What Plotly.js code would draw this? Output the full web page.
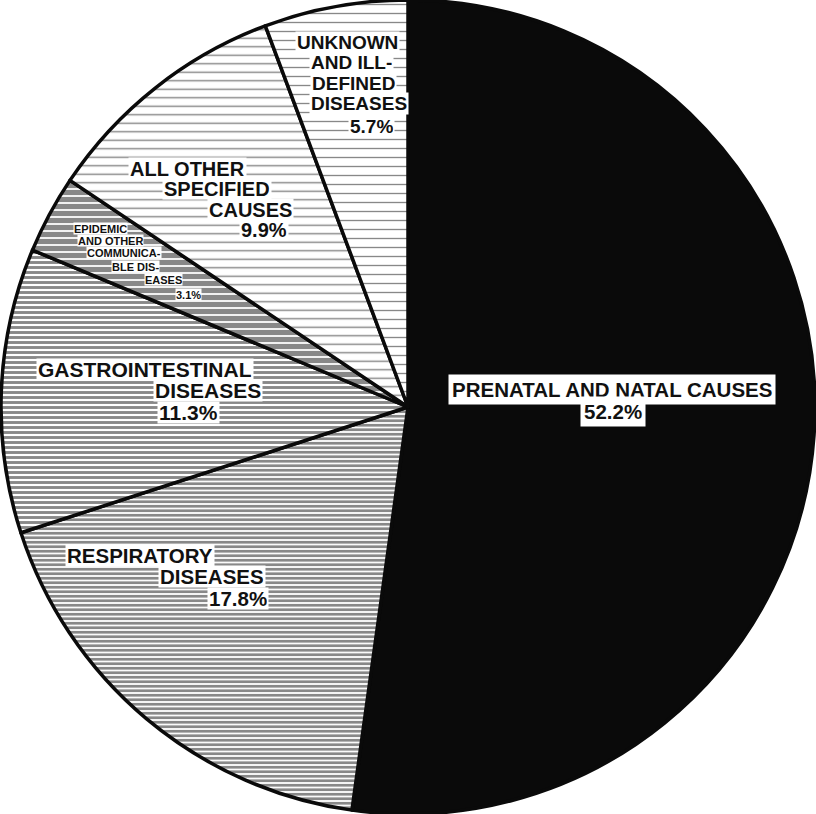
<!DOCTYPE html>
<html>
<head>
<meta charset="utf-8">
<script src="https://cdn.plot.ly/plotly-3.0.1.min.js"></script>
<style>html,body{margin:0;padding:0;background:#fff;}#chart{width:816px;height:814px;}</style>
</head>
<body>
<div id="chart"></div>
<script>
// ---- data ----
var categories = ["Prenatal and natal causes", "Respiratory diseases", "Gastrointestinal diseases",
  "Epidemic and other communicable diseases", "All other specified causes", "Unknown and ill-defined diseases"];
var values = [52.2, 17.8, 11.3, 3.1, 9.9, 5.7];
var labelLines = [
  ["PRENATAL AND NATAL CAUSES"],
  ["RESPIRATORY", "DISEASES"],
  ["GASTROINTESTINAL", "DISEASES"],
  ["EPIDEMIC", "AND OTHER", "COMMUNICA-", "BLE DIS-", "EASES"],
  ["ALL OTHER", "SPECIFIED", "CAUSES"],
  ["UNKNOWN", "AND ILL-", "DEFINED", "DISEASES"]
];

// ---- layout constants (pixel centres of each text line, font size) ----
var W = 816, H = 814;
var linePos = [
  [[612, 389], [613, 411]],
  [[140, 555], [212, 576], [238, 598]],
  [[145, 369], [208, 390], [188, 412]],
  [[100, 228], [110, 240.5], [124, 253], [135, 266.5], [163, 280], [188, 294]],
  [[187, 169], [217, 189], [250, 209], [264, 229]],
  [[347, 42], [351, 62], [353, 84], [359, 104], [371, 126]]
];
var fontSizes = [20.5, 20.5, 21, 11, 20, 19];
var pads = [3, 1, 1, 0, 1, 1];
var boxH = [null, 19, 19, 11, 19, 19];

var annotations = [];
for (var i = 0; i < categories.length; i++) {
  var lines = labelLines[i].concat([values[i].toFixed(1) + "%"]);
  for (var j = 0; j < lines.length; j++) {
    var p = linePos[i][j];
    var a = {
      text: "<b>" + lines[j] + "</b>", xref: "paper", yref: "paper",
      x: p[0] / W, y: 1 - p[1] / H, xanchor: "center", yanchor: "middle",
      showarrow: false, bgcolor: "#ffffff", borderpad: pads[i],
      font: {family: "Liberation Sans, Arial, sans-serif", size: fontSizes[i], color: "#111"}
    };
    if (boxH[i]) a.height = boxH[i];
    annotations.push(a);
  }
}

var trace = {
  type: "pie",
  labels: categories,
  values: values,
  sort: false,
  direction: "clockwise",
  rotation: 0,
  textinfo: "none",
  hoverinfo: "label+percent",
  marker: {
    colors: ["#0a0a0a", "#ffffff", "#ffffff", "#ffffff", "#ffffff", "#ffffff"],
    line: {color: "#0a0a0a", width: 3.5},
    pattern: {
      shape: ["", "-", "-", "-", "-", "-"],
      fgcolor: "#111111",
      bgcolor: ["#0a0a0a", "#ffffff", "#ffffff", "#ffffff", "#ffffff", "#ffffff"],
      size: [8, 4.5, 5, 7, 8.5, 9],
      solidity: [0.3, 0.62, 0.58, 0.75, 0.17, 0.15],
      fillmode: "overlay"
    }
  },
  showlegend: false
};

var layout = {
  width: W, height: H,
  margin: {l: 0, r: 0, t: 0, b: 0},
  paper_bgcolor: "#ffffff",
  showlegend: false,
  annotations: annotations
};

Plotly.newPlot("chart", [trace], layout, {displayModeBar: false, staticPlot: true});
</script>
</body>
</html>
